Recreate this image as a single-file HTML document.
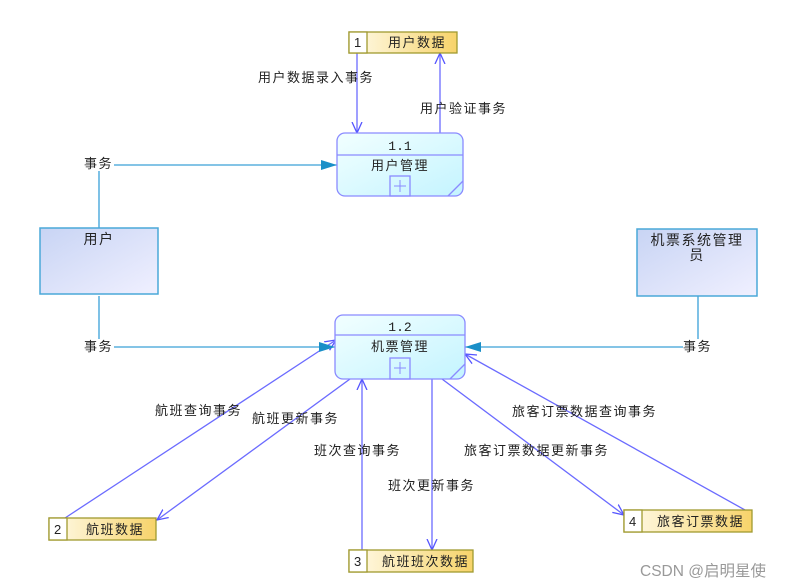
<!DOCTYPE html>
<html><head><meta charset="utf-8"><style>
body{margin:0;background:#fff}
svg{display:block}
text{font-family:"Liberation Sans","Noto Sans CJK SC",sans-serif;font-size:13px;fill:#222;letter-spacing:1.5px}
</style></head><body>
<svg width="792" height="588" viewBox="0 0 792 588" xmlns="http://www.w3.org/2000/svg">
<defs>
<linearGradient id="ds" x1="0" x2="1"><stop offset="0" stop-color="#fffbea"/><stop offset="1" stop-color="#f7d36a"/></linearGradient>
<linearGradient id="pr" x1="0" y1="0" x2="1" y2="1"><stop offset="0" stop-color="#f2ffff"/><stop offset="1" stop-color="#c4f4ff"/></linearGradient>
<linearGradient id="en" x1="0" y1="0" x2="1" y2="1"><stop offset="0" stop-color="#c8d4f4"/><stop offset="1" stop-color="#f0f0ff"/></linearGradient>
<marker id="oa" viewBox="0 0 12 12" refX="11" refY="6" markerWidth="12" markerHeight="12" markerUnits="userSpaceOnUse" orient="auto"><path d="M0,1 L11,6 L0,11" fill="none" stroke="#5555ff" stroke-width="1.3"/></marker>
<marker id="ca" viewBox="0 0 16 10" refX="16" refY="5" markerWidth="16" markerHeight="10" markerUnits="userSpaceOnUse" orient="auto"><path d="M0,0 L16,5 L0,10 Z" fill="#1a8fc8"/></marker>
</defs>
<g stroke="#6b6bff" stroke-width="1.3" fill="none" marker-end="url(#oa)">
<line x1="357" y1="53" x2="357" y2="133"/>
<line x1="440" y1="133" x2="440" y2="53"/>
<line x1="65" y1="518" x2="336" y2="340"/>
<line x1="350" y1="379" x2="157" y2="520"/>
<line x1="362" y1="550" x2="362" y2="379"/>
<line x1="432" y1="379" x2="432" y2="550"/>
<line x1="442" y1="379" x2="624" y2="515"/>
<line x1="745" y1="510" x2="465" y2="354"/>
</g>
<g stroke="#3aa0d8" stroke-width="1.3" fill="none" marker-end="url(#ca)">
<polyline points="99,228 99,165 337,165"/>
<polyline points="99,296 99,347 335,347"/>
<polyline points="698,296 698,347 465,347"/>
</g>
<g stroke="#a09a30" stroke-width="1.3">
<rect x="349" y="32" width="108" height="21" fill="url(#ds)"/><rect x="349" y="32" width="18" height="21" fill="#fff"/>
<rect x="49" y="518" width="107" height="22" fill="url(#ds)"/><rect x="49" y="518" width="18" height="22" fill="#fff"/>
<rect x="349" y="550" width="124" height="22" fill="url(#ds)"/><rect x="349" y="550" width="18" height="22" fill="#fff"/>
<rect x="624" y="510" width="128" height="22" fill="url(#ds)"/><rect x="624" y="510" width="18" height="22" fill="#fff"/>
</g>
<text x="354" y="47">1</text><text x="388" y="47">用户数据</text>
<text x="54" y="534">2</text><text x="86" y="534">航班数据</text>
<text x="354" y="566">3</text><text x="382" y="566">航班班次数据</text>
<text x="629" y="526">4</text><text x="657" y="526">旅客订票数据</text>
<g stroke="#8a8aff" stroke-width="1.3">
<rect x="337" y="133" width="126" height="63" rx="8" fill="url(#pr)"/>
<line x1="337" y1="155" x2="463" y2="155"/>
<rect x="390" y="176" width="20" height="20" fill="none"/>
<line x1="448" y1="196" x2="463" y2="181"/>
<rect x="335" y="315" width="130" height="64" rx="8" fill="url(#pr)"/>
<line x1="335" y1="335" x2="465" y2="335"/>
<rect x="390" y="358" width="20" height="21" fill="none"/>
<line x1="450" y1="379" x2="465" y2="364"/>
</g>
<g stroke="#8a8aff" stroke-width="1"><line x1="394" y1="186" x2="406" y2="186"/><line x1="400" y1="180" x2="400" y2="192"/><line x1="394" y1="368" x2="406" y2="368"/><line x1="400" y1="362" x2="400" y2="374"/></g>
<text x="400" y="150" text-anchor="middle" style="font-family:'Liberation Mono',monospace;letter-spacing:0">1.1</text>
<text x="400" y="170" text-anchor="middle">用户管理</text>
<text x="400" y="331" text-anchor="middle" style="font-family:'Liberation Mono',monospace;letter-spacing:0">1.2</text>
<text x="400" y="351" text-anchor="middle">机票管理</text>
<g stroke="#4aa8d8" stroke-width="1.5">
<rect x="40" y="228" width="118" height="66" fill="url(#en)"/>
<rect x="637" y="229" width="120" height="67" fill="url(#en)"/>
</g>
<text x="99" y="244" text-anchor="middle" style="font-size:14px">用户</text>
<text x="697" y="245" text-anchor="middle" style="font-size:14px">机票系统管理</text>
<text x="697" y="260" text-anchor="middle" style="font-size:14px">员</text>
<g>
<rect x="84" y="156" width="30" height="15" fill="#fff"/><text x="84" y="168">事务</text>
<rect x="84" y="339" width="30" height="15" fill="#fff"/><text x="84" y="351">事务</text>
<rect x="683" y="339" width="30" height="15" fill="#fff"/><text x="683" y="351">事务</text>
<text x="258" y="82">用户数据录入事务</text>
<text x="420" y="113">用户验证事务</text>
<text x="155" y="415">航班查询事务</text>
<text x="252" y="423">航班更新事务</text>
<text x="314" y="455">班次查询事务</text>
<text x="388" y="490">班次更新事务</text>
<text x="464" y="455">旅客订票数据更新事务</text>
<text x="512" y="416">旅客订票数据查询事务</text>
</g>
<text x="640" y="576" style="font-size:15.5px;fill:#999;letter-spacing:0">CSDN @启明星使</text>
</svg>
</body></html>
